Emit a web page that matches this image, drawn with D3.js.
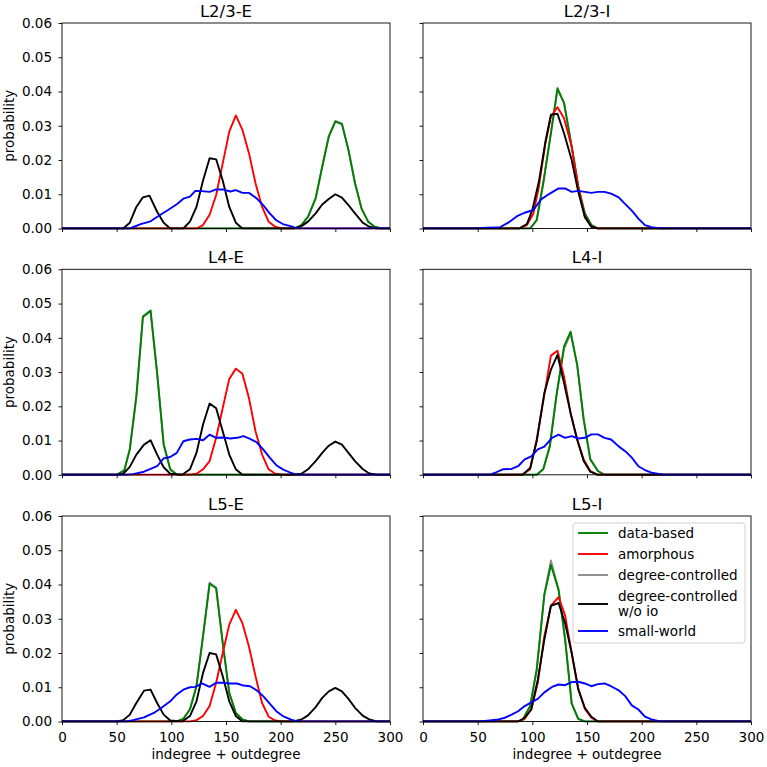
<!DOCTYPE html>
<html><head><meta charset="utf-8">
<script src="https://cdn.jsdelivr.net/npm/d3@7/dist/d3.min.js"></script>
<style>body{margin:0;background:#fff}svg{display:block}text{font-family:"DejaVu Sans",sans-serif;fill:#000}</style>
</head><body><svg id="c" width="767" height="767"></svg>
<script>
// ---------- data ----------
const panelTitles = ["L2/3-E", "L2/3-I", "L4-E", "L4-I", "L5-E", "L5-I"];
const seriesNames = ["data-based", "amorphous", "degree-controlled", "degree-controlled\nw/o io", "small-world"];
const seriesColors = ["#008000", "#ff0000", "#8c8c8c", "#000000", "#0000ff"];
const xTicks = [0, 50, 100, 150, 200, 250, 300];
const yTicks = [0, 0.01, 0.02, 0.03, 0.04, 0.05, 0.06];
const xLabel = "indegree + outdegree";
const yLabel = "probability";

// L2/3-E
const l23E_data = [[0,0],[213,0],[219,0.001],[225,0.0034],[232,0.0088],[238,0.018],[244,0.0268],[250,0.0312],[256,0.0305],[262,0.0229],[268,0.0132],[274,0.0058],[280,0.002],[286,0.0005],[292,0],[300,0]];
const l23E_amor = [[0,0],[123,0],[129,0.001],[135,0.004],[141,0.0098],[147,0.019],[153,0.0283],[159,0.033],[165,0.0288],[171,0.022],[177,0.0132],[183,0.0063],[189,0.002],[195,0.0005],[201,0],[300,0]];
const l23E_deg  = [[0,0],[213,0],[219,0.001],[225,0.0035],[232,0.0089],[238,0.0181],[244,0.027],[250,0.0314],[256,0.0307],[262,0.023],[268,0.0133],[274,0.0058],[280,0.002],[286,0.0005],[292,0],[300,0]];
const l23E_noio = [[0,0],[56,0],[62,0.0017],[68,0.0063],[74,0.0091],[80,0.0096],[87,0.0049],[93,0.0017],[99,0],[111,0],[117,0.002],[123,0.0063],[129,0.014],[135,0.0205],[141,0.0202],[147,0.014],[153,0.0063],[159,0.0017],[165,0],[212,0],[219,0.0007],[225,0.002],[232,0.0044],[238,0.007],[244,0.0086],[250,0.01],[256,0.009],[262,0.0068],[268,0.0044],[275,0.0017],[281,0.0005],[288,0],[300,0]];
const l23E_sw   = [[0,0],[62,0],[72,0.0013],[81,0.0021],[90,0.004],[97,0.0054],[105,0.0071],[111,0.0087],[117,0.0093],[122,0.011],[128,0.0109],[135,0.0107],[141,0.0114],[147,0.0114],[154,0.0108],[159,0.0112],[165,0.0104],[171,0.0104],[178,0.0088],[184,0.0068],[190,0.0044],[196,0.0024],[202,0.0013],[209,0.0007],[215,0],[300,0]];

// L2/3-I
const l23I_data = [[0,0],[98,0],[104,0.0024],[110,0.0132],[117,0.0278],[123,0.041],[129,0.0366],[136,0.0239],[142,0.0122],[148,0.0044],[154,0.001],[160,0],[300,0]];
const l23I_amor = [[0,0],[88,0],[95,0.001],[101,0.0044],[106,0.0122],[112,0.0249],[117,0.0327],[123,0.0354],[129,0.0322],[136,0.0239],[142,0.0122],[148,0.0034],[154,0.0005],[160,0],[300,0]];
const l23I_deg  = [[0,0],[98,0],[104,0.0025],[110,0.0135],[117,0.028],[123,0.0405],[129,0.0368],[136,0.024],[142,0.0123],[148,0.0045],[154,0.001],[160,0],[300,0]];
const l23I_noio = [[0,0],[88,0],[95,0.0013],[100,0.0054],[106,0.0137],[112,0.0254],[117,0.0332],[123,0.0335],[129,0.0278],[136,0.02],[142,0.0107],[148,0.0034],[154,0.0005],[160,0],[300,0]];
const l23I_sw   = [[0,0],[49,0],[58,0.0002],[70,0.0003],[78,0.0017],[86,0.0036],[93,0.0046],[101,0.0054],[108,0.0085],[116,0.0102],[124,0.0117],[130,0.0117],[136,0.0107],[142,0.011],[148,0.0107],[154,0.0104],[160,0.0107],[166,0.0107],[172,0.0102],[179,0.0091],[185,0.0071],[191,0.0052],[197,0.0029],[203,0.001],[209,0.0004],[217,0],[300,0]];

// L4-E
const l4E_data = [[0,0],[50,0],[57,0.0013],[62,0.0074],[68,0.0229],[74,0.0462],[81,0.048],[87,0.0297],[93,0.0088],[99,0.0016],[105,0],[300,0]];
const l4E_amor = [[0,0],[117,0],[123,0.0003],[129,0.0016],[135,0.004],[141,0.0108],[147,0.0195],[153,0.028],[159,0.031],[165,0.0295],[171,0.0224],[177,0.0127],[183,0.0059],[189,0.0016],[195,0.0003],[201,0],[300,0]];
const l4E_deg  = [[0,0],[50,0],[57,0.0013],[62,0.0075],[68,0.0228],[74,0.046],[81,0.0477],[87,0.0298],[93,0.009],[99,0.0016],[105,0],[300,0]];
const l4E_noio = [[0,0],[50,0],[56,0.0003],[62,0.0023],[68,0.0059],[75,0.0088],[81,0.0101],[87,0.0059],[93,0.0022],[99,0.0003],[110,0],[117,0.0016],[123,0.0064],[129,0.0147],[135,0.0208],[141,0.0194],[147,0.0127],[153,0.0059],[159,0.0016],[165,0],[212,0],[219,0.0003],[225,0.0016],[232,0.004],[238,0.0064],[244,0.0085],[250,0.0097],[256,0.0088],[262,0.0064],[268,0.004],[275,0.0017],[281,0.0004],[288,0],[300,0]];
const l4E_sw   = [[0,0],[59,0],[65,0.0002],[75,0.0009],[81,0.0017],[87,0.0025],[93,0.0048],[99,0.0052],[105,0.0064],[111,0.0098],[117,0.0103],[123,0.0105],[129,0.0101],[135,0.0117],[141,0.0108],[147,0.0109],[154,0.0106],[160,0.0108],[166,0.0113],[172,0.0105],[178,0.0095],[184,0.0074],[190,0.005],[196,0.0028],[202,0.0016],[209,0.0006],[215,0],[300,0]];

// L4-I
const l4I_data = [[0,0],[104,0],[110,0.0016],[116,0.0083],[122,0.0229],[129,0.0375],[135,0.0418],[141,0.0321],[147,0.0161],[153,0.0045],[160,0.0011],[166,0],[300,0]];
const l4I_amor = [[0,0],[91,0],[98,0.0016],[104,0.0103],[111,0.0234],[117,0.0348],[123,0.0362],[129,0.0287],[135,0.018],[141,0.0103],[147,0.0045],[153,0.0011],[160,0],[300,0]];
const l4I_deg  = [[0,0],[104,0],[110,0.0017],[116,0.0085],[122,0.0232],[129,0.0368],[135,0.0412],[141,0.0322],[147,0.0162],[153,0.0046],[160,0.0011],[166,0],[300,0]];
const l4I_noio = [[0,0],[91,0],[98,0.002],[104,0.0098],[111,0.0239],[117,0.0307],[123,0.035],[129,0.0268],[135,0.018],[141,0.0103],[147,0.004],[153,0.0009],[160,0],[300,0]];
const l4I_sw   = [[0,0],[61,0],[66,0.0006],[73,0.0016],[81,0.0017],[87,0.0025],[93,0.0045],[99,0.0054],[105,0.0074],[111,0.0082],[118,0.0108],[124,0.0117],[130,0.0108],[136,0.0113],[142,0.0106],[148,0.0108],[154,0.0118],[160,0.0118],[166,0.0108],[172,0.0103],[179,0.0083],[185,0.0069],[191,0.005],[197,0.0025],[203,0.0014],[209,0.0006],[220,0],[300,0]];

// L5-E
const l5E_data = [[0,0],[105,0],[111,0.0008],[117,0.0035],[123,0.0103],[129,0.0249],[135,0.0402],[141,0.0389],[147,0.0229],[153,0.0083],[159,0.0025],[165,0.0006],[171,0],[300,0]];
const l5E_amor = [[0,0],[117,0],[123,0.0004],[129,0.0016],[135,0.0045],[141,0.0113],[147,0.02],[153,0.0283],[159,0.0326],[165,0.0287],[171,0.0219],[177,0.0132],[183,0.0054],[189,0.0014],[195,0.0003],[201,0],[300,0]];
const l5E_deg  = [[0,0],[105,0],[111,0.0008],[117,0.0036],[123,0.0104],[129,0.025],[135,0.0405],[141,0.0391],[147,0.023],[153,0.0084],[159,0.0025],[165,0.0006],[171,0],[300,0]];
const l5E_noio = [[0,0],[50,0],[56,0.0004],[62,0.002],[68,0.0054],[75,0.009],[81,0.0093],[87,0.0054],[93,0.002],[99,0.0003],[110,0],[117,0.0016],[123,0.0059],[129,0.0142],[135,0.02],[141,0.0196],[147,0.0132],[153,0.0059],[159,0.0016],[165,0],[212,0],[219,0.0006],[225,0.0018],[232,0.0042],[238,0.0069],[244,0.0088],[250,0.0098],[256,0.0088],[262,0.0066],[268,0.004],[275,0.0017],[281,0.0006],[288,0],[300,0]];
const l5E_sw   = [[0,0],[59,0],[65,0.0004],[75,0.0012],[84,0.0025],[91,0.004],[99,0.0059],[105,0.0079],[111,0.0093],[117,0.01],[122,0.0101],[128,0.0111],[135,0.0101],[141,0.0113],[147,0.0113],[154,0.0111],[160,0.0111],[166,0.0105],[172,0.0103],[178,0.0091],[184,0.0074],[190,0.0052],[196,0.003],[202,0.0016],[209,0.0006],[215,0],[300,0]];

// L5-I
const l5I_data = [[0,0],[86,0],[91,0.0004],[98,0.0045],[104,0.0151],[111,0.037],[117,0.0457],[124,0.0384],[130,0.0239],[136,0.0052],[142,0.0008],[148,0],[300,0]];
const l5I_amor = [[0,0],[87,0],[93,0.0008],[99,0.0035],[105,0.0113],[111,0.0249],[117,0.0338],[124,0.0363],[130,0.0309],[136,0.02],[142,0.0098],[148,0.0037],[154,0.0011],[160,0],[300,0]];
const l5I_deg  = [[0,0],[86,0],[91,0.0004],[98,0.0046],[104,0.0153],[111,0.0372],[117,0.047],[124,0.0386],[130,0.024],[136,0.0053],[142,0.0008],[148,0],[300,0]];
const l5I_noio = [[0,0],[87,0],[93,0.0011],[99,0.0035],[105,0.0122],[111,0.0239],[117,0.0338],[124,0.0346],[130,0.0287],[136,0.02],[142,0.0093],[148,0.004],[154,0.0014],[160,0],[300,0]];
const l5I_sw   = [[0,0],[52,0],[61,0.0003],[69,0.0006],[75,0.0011],[81,0.002],[87,0.003],[93,0.0045],[99,0.0056],[105,0.0066],[111,0.0085],[118,0.0101],[124,0.0108],[130,0.0106],[136,0.0115],[142,0.0116],[148,0.0111],[154,0.0103],[160,0.0109],[166,0.0111],[172,0.0103],[179,0.0091],[185,0.0074],[191,0.0047],[197,0.0035],[203,0.0014],[209,0.0006],[217,0],[300,0]];

const panelSeries = [
  [l23E_data, l23E_amor, l23E_deg, l23E_noio, l23E_sw],
  [l23I_data, l23I_amor, l23I_deg, l23I_noio, l23I_sw],
  [l4E_data, l4E_amor, l4E_deg, l4E_noio, l4E_sw],
  [l4I_data, l4I_amor, l4I_deg, l4I_noio, l4I_sw],
  [l5E_data, l5E_amor, l5E_deg, l5E_noio, l5E_sw],
  [l5I_data, l5I_amor, l5I_deg, l5I_noio, l5I_sw]
];

// ---------- layout ----------
const svg = d3.select("#c");
const W = 328, H = 205.5;
const lefts = [62, 423], tops = [23, 269.3, 516];
const drawOrder = [2, 0, 1, 3, 4];
const FS = 13.5;

panelTitles.forEach((title, i) => {
  const col = i % 2, row = Math.floor(i / 2);
  const g = svg.append("g").attr("transform", `translate(${lefts[col]},${tops[row]})`);
  const x = d3.scaleLinear().domain([0, 300]).range([0, W]);
  const y = d3.scaleLinear().domain([0, 0.06]).range([H, 0]);
  const line = d3.line().x(d => x(d[0])).y(d => y(d[1]));

  const clip = "clip" + i;
  g.append("clipPath").attr("id", clip).append("rect").attr("x", -1).attr("y", -1).attr("width", W + 2).attr("height", H + 2);
  const plot = g.append("g").attr("clip-path", `url(#${clip})`);
  drawOrder.forEach(s => {
    plot.append("path").datum(panelSeries[i][s])
      .attr("d", line).attr("fill", "none")
      .attr("stroke", seriesColors[s]).attr("stroke-width", 1.9)
      .attr("stroke-linejoin", "round");
  });

  const yAxis = d3.axisLeft(y).tickValues(yTicks).tickSize(3.5).tickPadding(6.5)
    .tickFormat(col === 0 ? d3.format(".2f") : () => "");
  const ya = g.append("g").call(yAxis);
  const xAxis = d3.axisBottom(x).tickValues(xTicks).tickSize(3.5).tickPadding(7.5)
    .tickFormat(row === 2 ? d3.format("d") : () => "");
  const xa = g.append("g").attr("transform", `translate(0,${H})`).call(xAxis);
  [ya, xa].forEach(a => {
    a.select(".domain").remove();
    a.selectAll("text").style("font-size", FS + "px").style("font-family", '"DejaVu Sans",sans-serif');
    a.selectAll("line").attr("stroke", "#000").attr("stroke-width", 0.9);
  });
  g.append("rect").attr("width", W).attr("height", H).attr("fill", "none").attr("stroke", "#000").attr("stroke-width", 0.9);

  g.append("text").attr("x", W / 2).attr("y", -6).attr("text-anchor", "middle")
    .style("font-size", "16.5px").text(title);
  if (col === 0) {
    g.append("text").attr("transform", `translate(${14 - lefts[0]},${H / 2}) rotate(-90)`)
      .attr("text-anchor", "middle").style("font-size", FS + "px").text(yLabel);
  }
  if (row === 2) {
    g.append("text").attr("x", W / 2).attr("y", H + 37).attr("text-anchor", "middle")
      .style("font-size", FS + "px").text(xLabel);
  }
});

// ---------- legend ----------
const leg = svg.append("g").attr("transform", "translate(573,523)");
leg.append("rect").attr("width", 172).attr("height", 120).attr("rx", 3)
  .attr("fill", "#fff").attr("fill-opacity", 0.85).attr("stroke", "#cccccc").attr("stroke-width", 0.9);
const handleY = [10, 31, 52, 81, 108];
seriesNames.forEach((name, s) => {
  const yy = handleY[s];
  leg.append("line").attr("x1", 5).attr("x2", 35).attr("y1", yy).attr("y2", yy)
    .attr("stroke", seriesColors[s]).attr("stroke-width", 1.9);
  const lines = name.split("\n");
  const t = leg.append("text").attr("x", 45).style("font-size", FS + "px");
  lines.forEach((ln, k) => {
    const cy = lines.length === 1 ? yy : yy - 8 + k * 15.5;
    t.append("tspan").attr("x", 45).attr("y", cy).attr("dy", "0.36em").text(ln);
  });
});
</script></body></html>
